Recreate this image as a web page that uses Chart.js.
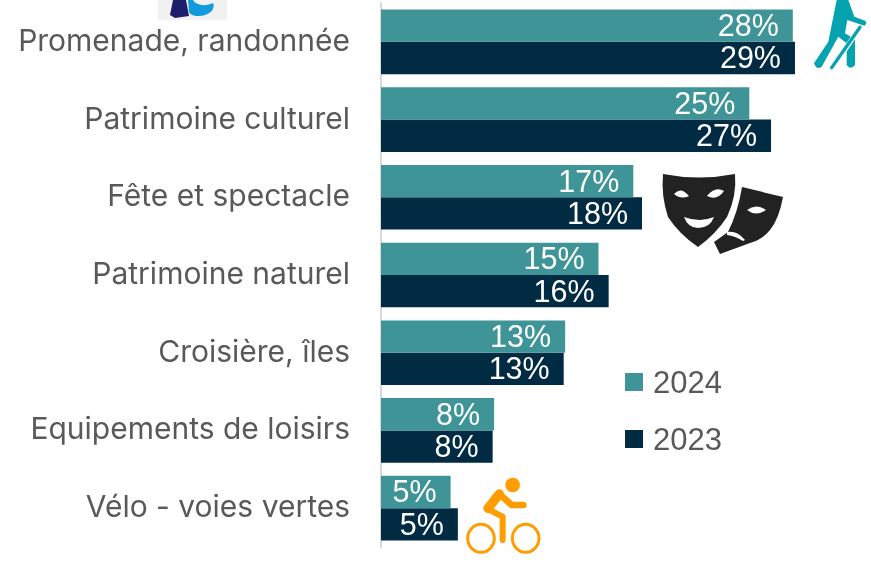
<!DOCTYPE html>
<html><head><meta charset="utf-8">
<style>html,body{margin:0;padding:0;background:#fff;overflow:hidden}
#w{position:relative;width:871px;height:563px}
canvas{position:absolute;left:0;top:0}
svg{position:absolute;left:0;top:0;pointer-events:none}</style>
<script src="https://cdn.jsdelivr.net/npm/chart.js@4"></script>
</head><body><div id="w"><canvas id="c" width="871" height="563"></canvas>
<svg width="871" height="563" viewBox="0 0 871 563">
<rect x="158" y="0" width="69" height="20" fill="#f1f1f1"/>
<path d="M173 0H186L189 16L175 18L170 15Z" fill="#1d1f6b"/>
<path d="M188 0H193C196 5 205 7 213 3C216 10 208 16 198 16C193 16 190 14 189 12Z" fill="#0f9bdc"/>
<g transform="translate(810,0) scale(0.3333)">
<path d="M80 0L115 0L133 50L165 62Q174 70 163 77L112 60L105 100L135 118V195Q122 212 110 195V130L85 110L35 200Q20 212 12 190L55 125Z" fill="#05a3af"/>
<path d="M140 97L100 156" stroke="#fff" stroke-width="15" fill="none"/>
<path d="M150 82L65 203" stroke="#05a3af" stroke-width="10" stroke-linecap="round" fill="none"/>
</g>
<path d="M663 174Q699 181 735 174Q737 196 727 217Q716 234 698 247Q679 234 668 217Q661 196 663 174Z" fill="#222"/>
<path d="M674 194Q681 186 689 196Q681 200 674 194ZM707 196Q715 186 724 191Q717 201 707 196ZM684 217Q700 223 714 217Q710 228 698 228Q688 228 684 217Z" fill="#fff"/>
<path d="M742 187L783 197Q779 219 770 230Q762 240 750 243L720 254L714 242L728 232Q738 212 742 187Z" fill="#222"/>
<path d="M747 210Q756 203 766 210Q756 217 747 210Z" fill="#fff"/>
<path d="M727 232Q737 230 745 240L743 241Q735 236 727 235Z" fill="#fff"/>
<g transform="translate(460,470) scale(0.3333)" fill="none" stroke="#ff9c00" stroke-linecap="round" stroke-linejoin="round">
<ellipse cx="63" cy="205" rx="40" ry="42" stroke-width="9"/>
<ellipse cx="197" cy="205" rx="40" ry="42" stroke-width="9"/>
<path d="M118 72L84 115" stroke-width="28"/>
<path d="M85 118L128 140V210" stroke-width="18"/>
<path d="M118 72L155 105H190" stroke-width="20"/>
<circle cx="158" cy="45" r="22" fill="#ff9c00" stroke="none"/>
</g>
</svg></div>
<script>
const categories = ["Promenade, randonnée","Patrimoine culturel","Fête et spectacle","Patrimoine naturel","Croisière, îles","Equipements de loisirs","Vélo - voies vertes"];
const values2024 = [28.4,25.4,17.4,15.0,12.7,7.8,4.8];
const values2023 = [28.55,26.9,18.0,15.7,12.6,7.7,5.3];
const teal = "#3f9498", navy = "#012a43", grey = "#595959";
const FONT = "'Liberation Sans', Arial, sans-serif";
const extras = {
  id:"extras",
  afterDatasetsDraw(chart){
    const ctx = chart.ctx;
    ctx.save();
    ctx.font = "30.5px "+FONT;
    ctx.textBaseline = "middle";
    chart.data.datasets.forEach((ds,i)=>{
      chart.getDatasetMeta(i).data.forEach((el,j)=>{
        ctx.fillStyle="#fff"; ctx.textAlign="right";
        ctx.fillText(Math.round(ds.data[j])+"%", el.x-14, el.y+2);
      });
    });
    const lx=[625,625], ly=[382,439];
    ctx.font = "31px "+FONT;
    chart.data.datasets.forEach((ds,i)=>{
      ctx.fillStyle=ds.backgroundColor;
      ctx.fillRect(lx[i],ly[i]-9,18,18);
      ctx.fillStyle=grey; ctx.textAlign="left";
      ctx.fillText(ds.label,lx[i]+28,ly[i]+2);
    });
    ctx.restore();
  }
};
new Chart(document.getElementById("c"),{
  type:"bar",
  data:{labels:categories,datasets:[
    {label:"2024",data:values2024,backgroundColor:teal},
    {label:"2023",data:values2023,backgroundColor:navy}
  ]},
  options:{
    indexAxis:"y",responsive:false,animation:false,
    layout:{padding:{top:3,bottom:16,right:55,left:0}},
    categoryPercentage:0.832,barPercentage:1,
    plugins:{legend:{display:false},tooltip:{enabled:false}},
    scales:{
      x:{display:false,min:0,max:30},
      y:{
        afterFit(s){s.width=381;s.paddingTop=0;s.paddingBottom=0;},
        grid:{display:false,drawTicks:false},
        border:{display:true,color:"#d9d9d9",width:2},
        ticks:{color:grey,font:{size:30,family:"Inter, "+FONT},padding:31,autoSkip:false}
      }
    }
  },
  plugins:[extras]
});
</script></body></html>
